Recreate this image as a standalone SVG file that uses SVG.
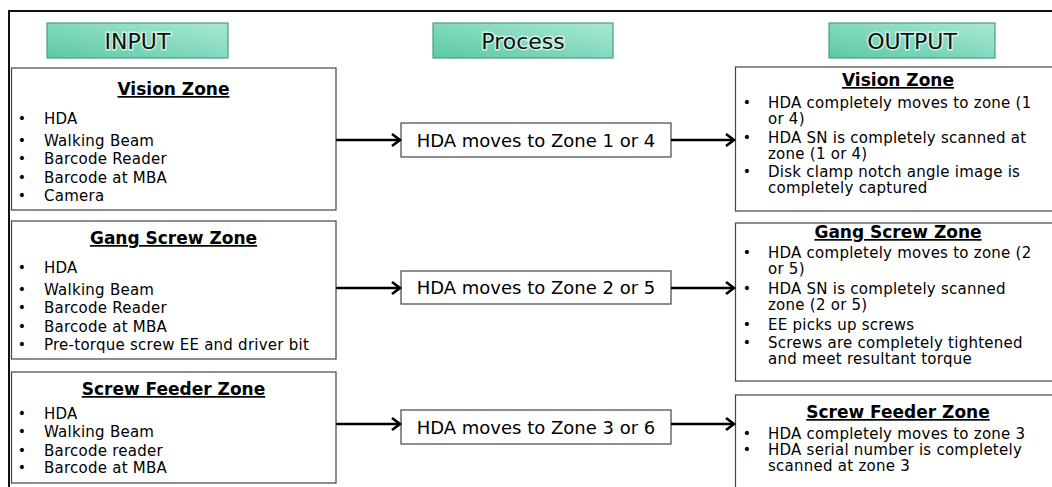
<svg xmlns="http://www.w3.org/2000/svg" width="1052" height="487" viewBox="0 0 1052 487">
<defs>
<linearGradient id="hdr" x1="0" y1="1" x2="1" y2="0">
<stop offset="0" stop-color="#5cc9a5"/>
<stop offset="1" stop-color="#a9e8d5"/>
</linearGradient>
<marker id="arr" markerUnits="userSpaceOnUse" markerWidth="14" markerHeight="16" refX="11" refY="8" orient="auto">
<path d="M3,2 L11,8 L3,14" fill="none" stroke="#000" stroke-width="2.6"/>
</marker>
<style>
.hdr{fill:url(#hdr);stroke:#4c9d80;stroke-width:1.2}
.ht{font-family:"DejaVu Sans",Verdana,sans-serif;font-size:22px;fill:#111;text-anchor:middle;stroke:#e9fff7;stroke-width:3;stroke-opacity:0.7;paint-order:stroke}
.box{fill:#fff;stroke:#444;stroke-width:1.2}
.ttl{font-family:"DejaVu Sans",Verdana,sans-serif;font-size:17px;font-weight:bold;fill:#000;text-anchor:middle;text-decoration:underline}
.t{font-family:"DejaVu Sans",Verdana,sans-serif;font-size:15px;letter-spacing:0.25px;fill:#000}
.b{font-family:"DejaVu Sans",Verdana,sans-serif;font-size:14px;fill:#000;text-anchor:middle}
.pt{font-family:"DejaVu Sans",Verdana,sans-serif;font-size:18px;fill:#000;text-anchor:middle}
.c{stroke:#000;stroke-width:2.6;fill:none;marker-end:url(#arr)}
</style>
</defs>
<rect width="1052" height="487" fill="#fff"/>
<g id="frame">
<path d="M9,487 V11 H1052" fill="none" stroke="#111" stroke-width="2"/>
</g>
<g id="hdr-input"><rect class="hdr" x="47" y="23" width="181" height="35"/><text class="ht" x="137.5" y="49">INPUT</text></g>
<g id="hdr-process"><rect class="hdr" x="433" y="23" width="180" height="35"/><text class="ht" x="523" y="49">Process</text></g>
<g id="hdr-output"><rect class="hdr" x="829" y="23" width="166" height="35"/><text class="ht" x="912" y="49">OUTPUT</text></g>

<g id="in-vision">
<rect class="box" x="11.5" y="68" width="324.5" height="142"/>
<text class="ttl" x="173.5" y="95">Vision Zone</text>
<g class="b"><text x="22" y="123">•</text><text x="22" y="145">•</text><text x="22" y="163">•</text><text x="22" y="182">•</text><text x="22" y="200">•</text></g>
<text class="t" x="44" y="124">HDA</text>
<text class="t" x="44" y="146">Walking Beam</text>
<text class="t" x="44" y="164">Barcode Reader</text>
<text class="t" x="44" y="183">Barcode at MBA</text>
<text class="t" x="44" y="201">Camera</text>
</g>
<g id="in-gang">
<rect class="box" x="11.5" y="221" width="324.5" height="138"/>
<text class="ttl" x="173.5" y="244">Gang Screw Zone</text>
<g class="b"><text x="22" y="272">•</text><text x="22" y="294">•</text><text x="22" y="312">•</text><text x="22" y="331">•</text><text x="22" y="349">•</text></g>
<text class="t" x="44" y="273">HDA</text>
<text class="t" x="44" y="295">Walking Beam</text>
<text class="t" x="44" y="313">Barcode Reader</text>
<text class="t" x="44" y="332">Barcode at MBA</text>
<text class="t" x="44" y="350">Pre-torque screw EE and driver bit</text>
</g>
<g id="in-feeder">
<rect class="box" x="11.5" y="372" width="324.5" height="111"/>
<text class="ttl" x="173.5" y="395">Screw Feeder Zone</text>
<g class="b"><text x="22" y="418">•</text><text x="22" y="436">•</text><text x="22" y="455">•</text><text x="22" y="472">•</text></g>
<text class="t" x="44" y="419">HDA</text>
<text class="t" x="44" y="437">Walking Beam</text>
<text class="t" x="44" y="456">Barcode reader</text>
<text class="t" x="44" y="473">Barcode at MBA</text>
</g>

<g id="proc-1"><rect class="box" x="401" y="123" width="270" height="34"/><text class="pt" x="536" y="146.5">HDA moves to Zone 1 or 4</text></g>
<g id="proc-2"><rect class="box" x="401" y="271" width="270" height="33"/><text class="pt" x="536" y="294">HDA moves to Zone 2 or 5</text></g>
<g id="proc-3"><rect class="box" x="401" y="410" width="270" height="34"/><text class="pt" x="536" y="433.5">HDA moves to Zone 3 or 6</text></g>

<g id="out-vision">
<rect class="box" x="735.5" y="67" width="330" height="144"/>
<text class="ttl" x="898" y="86">Vision Zone</text>
<g class="b"><text x="747" y="107">•</text><text x="747" y="142">•</text><text x="747" y="176">•</text></g>
<text class="t" x="768" y="108">HDA completely moves to zone (1</text>
<text class="t" x="768" y="124">or 4)</text>
<text class="t" x="768" y="143">HDA SN is completely scanned at</text>
<text class="t" x="768" y="159">zone (1 or 4)</text>
<text class="t" x="768" y="177">Disk clamp notch angle image is</text>
<text class="t" x="768" y="193">completely captured</text>
</g>
<g id="out-gang">
<rect class="box" x="735.5" y="223" width="330" height="158"/>
<text class="ttl" x="898" y="238">Gang Screw Zone</text>
<g class="b"><text x="747" y="257">•</text><text x="747" y="293">•</text><text x="747" y="329">•</text><text x="747" y="347">•</text></g>
<text class="t" x="768" y="258">HDA completely moves to zone (2</text>
<text class="t" x="768" y="274">or 5)</text>
<text class="t" x="768" y="294">HDA SN is completely scanned</text>
<text class="t" x="768" y="310">zone (2 or 5)</text>
<text class="t" x="768" y="330">EE picks up screws</text>
<text class="t" x="768" y="348">Screws are completely tightened</text>
<text class="t" x="768" y="364">and meet resultant torque</text>
</g>
<g id="out-feeder">
<rect class="box" x="735.5" y="395" width="330" height="110"/>
<text class="ttl" x="898" y="418">Screw Feeder Zone</text>
<g class="b"><text x="747" y="438">•</text><text x="747" y="454">•</text></g>
<text class="t" x="768" y="439">HDA completely moves to zone 3</text>
<text class="t" x="768" y="455">HDA serial number is completely</text>
<text class="t" x="768" y="471">scanned at zone 3</text>
</g>

<g id="connectors">
<line class="c" x1="336" y1="140" x2="400" y2="140"/>
<line class="c" x1="671" y1="140" x2="734" y2="140"/>
<line class="c" x1="336" y1="288" x2="400" y2="288"/>
<line class="c" x1="671" y1="288" x2="734" y2="288"/>
<line class="c" x1="336" y1="424" x2="400" y2="424"/>
<line class="c" x1="671" y1="424" x2="734" y2="424"/>
</g>
</svg>
